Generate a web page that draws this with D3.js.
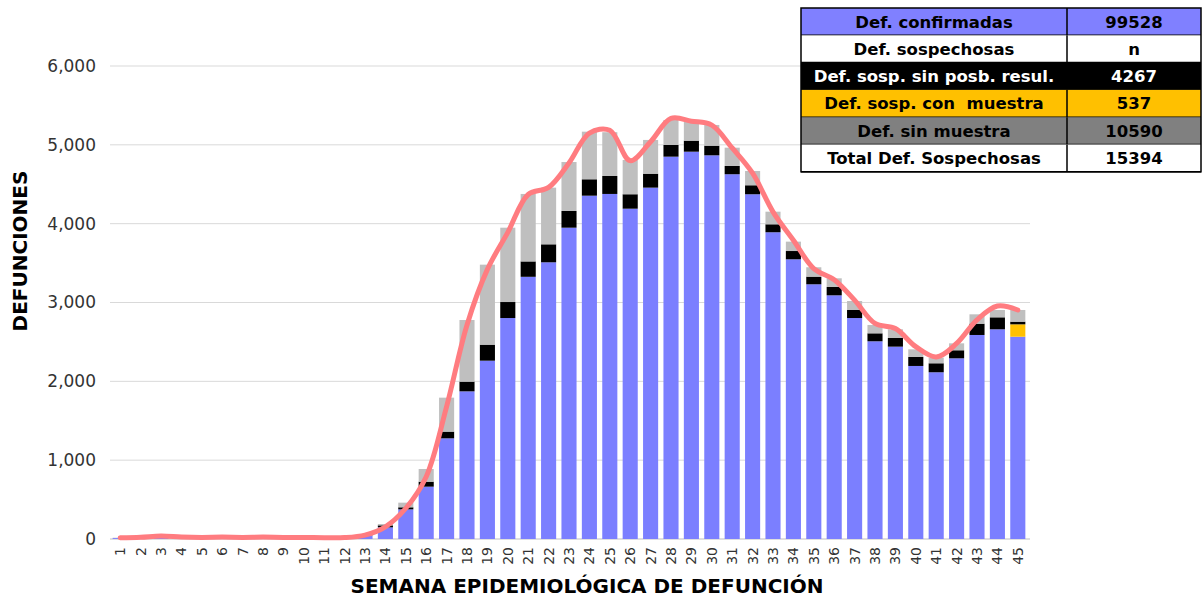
<!DOCTYPE html>
<html>
<head>
<meta charset="utf-8">
<script src="https://cdn.jsdelivr.net/npm/d3@7"></script>
<style>
  body { margin: 0; background: #fff; }
  svg { font-family: "DejaVu Sans", sans-serif; }
</style>
</head>
<body>
<svg id="chart"></svg>
<script>
// semanas epidemiologicas 1..45
const semanas = d3.range(1, 46);

// defunciones confirmadas por semana
const confirmadas = [12, 8, 15, 8, 6, 9, 6, 9, 7, 7, 5, 9, 40, 148, 376, 664, 1277, 1873, 2262, 2803,
  3326, 3510, 3949, 4355, 4377, 4190, 4457, 4850, 4913, 4867, 4627, 4373, 3891, 3548, 3231,
  3091, 2803, 2508, 2440, 2195, 2115, 2292, 2588, 2660, 2566];
// sospechosas con muestra
const conMuestra = [0, 0, 0, 0, 0, 0, 0, 0, 0, 0, 0, 0, 0, 0, 0, 0, 0, 0, 0, 0,
  0, 0, 0, 0, 0, 0, 0, 0, 0, 0, 0, 0, 0, 0, 0,
  0, 0, 0, 0, 0, 0, 0, 0, 0, 157];
// sospechosas sin posibilidad de resultado
const sinPosibResul = [0, 0, 0, 0, 0, 0, 0, 0, 0, 0, 0, 0, 5, 25, 26, 63, 85, 123, 203, 203,
  195, 228, 212, 208, 228, 183, 177, 148, 140, 122, 105, 114, 101, 105, 97,
  106, 102, 101, 110, 114, 114, 102, 143, 152, 34];
// sospechosas sin muestra
const sinMuestra = [4, 2, 10, 5, 4, 6, 4, 6, 5, 5, 4, 5, 10, 17, 59, 161, 431, 782, 1015, 943,
  856, 719, 621, 604, 555, 435, 428, 317, 241, 263, 232, 181, 160, 119, 119,
  110, 114, 106, 110, 97, 71, 88, 119, 93, 148];
// linea de tendencia (total estimado)
const tendencia = [15, 22, 38, 25, 20, 24, 20, 24, 20, 20, 16, 18, 50, 155, 390, 790, 1680, 2715, 3420, 3890,
  4370, 4460, 4770, 5150, 5185, 4800, 5040, 5335, 5300, 5250, 4960, 4640, 4150, 3790, 3430,
  3290, 3030, 2735, 2670, 2440, 2310, 2480, 2780, 2955, 2905];

const yTicks = [0, 1000, 2000, 3000, 4000, 5000, 6000];

const tablaEtiquetas = ["Def. confirmadas", "Def. sospechosas", "Def. sosp. sin posb. resul.",
  "Def. sosp. con  muestra", "Def. sin muestra", "Total Def. Sospechosas"];
const tablaValores = ["99528", "n", "4267", "537", "10590", "15394"];

const series = [
  { key: "confirmadas", values: confirmadas, color: "#7B7FFF" },
  { key: "conMuestra", values: conMuestra, color: "#FFC000" },
  { key: "sinPosibResul", values: sinPosibResul, color: "#000000" },
  { key: "sinMuestra", values: sinMuestra, color: "#BFBFBF" }
];
const tablaFondo = ["#8080FF", "#FFFFFF", "#000000", "#FFC000", "#808080", "#FFFFFF"];
const tablaTexto = ["#000", "#000", "#fff", "#000", "#000", "#000"];

const w = 1204, h = 597;
const svg = d3.select("#chart").attr("width", w).attr("height", h);

const rows = semanas.map((s, i) => {
  const r = { semana: s };
  series.forEach(se => r[se.key] = se.values[i]);
  return r;
});

const x = d3.scaleBand().domain(semanas).range([110, 1028]).paddingInner(0.26).paddingOuter(0.13);
const y = d3.scaleLinear().domain([0, 6000]).range([539, 66]);

// gridlines
svg.append("g")
  .selectAll("line")
  .data(yTicks)
  .join("line")
  .attr("x1", 110).attr("x2", 1030)
  .attr("y1", d => y(d)).attr("y2", d => y(d))
  .attr("stroke", d => d === 0 ? "#bfbfbf" : "#d9d9d9")
  .attr("stroke-width", 1);

const yAxis = svg.append("g")
  .attr("transform", "translate(96,0)")
  .call(d3.axisLeft(y).tickValues(yTicks).tickFormat(d3.format(",")).tickSize(0).tickPadding(0));
yAxis.select(".domain").remove();
yAxis.selectAll("text").attr("font-size", 17).attr("fill", "#333").attr("font-family", "DejaVu Sans");

const stack = d3.stack().keys(series.map(s => s.key));
const stacked = stack(rows);

svg.append("g")
  .selectAll("g")
  .data(stacked)
  .join("g")
  .attr("fill", (d, i) => series[i].color)
  .selectAll("rect")
  .data(d => d)
  .join("rect")
  .attr("x", d => x(d.data.semana))
  .attr("y", d => y(d[1]))
  .attr("width", x.bandwidth())
  .attr("height", d => y(d[0]) - y(d[1]));

// linea suavizada
const line = d3.line()
  .x((d, i) => x(semanas[i]) + x.bandwidth() / 2)
  .y(d => y(d))
  .curve(d3.curveCatmullRom.alpha(0.5));

svg.append("path")
  .datum(tendencia)
  .attr("d", line)
  .attr("fill", "none")
  .attr("stroke", "#FF7C80")
  .attr("stroke-width", 5)
  .attr("stroke-linecap", "round")
  .attr("stroke-linejoin", "round");

const xAxis = svg.append("g")
  .attr("transform", "translate(0,541)")
  .call(d3.axisBottom(x).tickSize(0).tickPadding(0));
xAxis.select(".domain").remove();
xAxis.selectAll("text")
  .attr("font-size", 14)
  .attr("fill", "#333")
  .attr("font-family", "DejaVu Sans")
  .attr("text-anchor", "end")
  .attr("transform", "rotate(-90)")
  .attr("x", -6)
  .attr("y", 0)
  .attr("dy", "0.35em");

svg.append("text")
  .attr("transform", "translate(27,251) rotate(-90)")
  .attr("text-anchor", "middle")
  .attr("font-weight", "bold")
  .attr("font-size", 20)
  .text("DEFUNCIONES");

svg.append("text")
  .attr("x", 587)
  .attr("y", 593)
  .attr("text-anchor", "middle")
  .attr("font-weight", "bold")
  .attr("font-size", 20)
  .text("SEMANA EPIDEMIOLÓGICA DE DEFUNCIÓN");

// tabla resumen
const tx = 801, tMid = 1067, tRight = 1201, tTop = 8, rowH = 27.3;
const tabla = svg.append("g");
const filas = tabla.selectAll("g")
  .data(tablaEtiquetas)
  .join("g")
  .attr("transform", (d, i) => `translate(0,${tTop + i * rowH})`);
filas.append("rect")
  .attr("x", tx).attr("width", tRight - tx).attr("height", rowH)
  .attr("fill", (d, i) => tablaFondo[i]);
filas.append("line")
  .attr("x1", tMid).attr("x2", tMid).attr("y1", 0).attr("y2", rowH)
  .attr("stroke", "#000").attr("stroke-width", 1.5);
filas.append("line")
  .attr("x1", tx).attr("x2", tRight).attr("y1", rowH).attr("y2", rowH)
  .attr("stroke", "#000").attr("stroke-width", 1.5);
filas.append("text")
  .attr("x", (tx + tMid) / 2).attr("y", rowH / 2).attr("dy", "0.36em")
  .attr("text-anchor", "middle").attr("font-weight", "bold").attr("font-size", 16.5)
  .attr("fill", (d, i) => tablaTexto[i])
  .style("white-space", "pre")
  .text(d => d);
filas.append("text")
  .attr("x", (tMid + tRight) / 2).attr("y", rowH / 2).attr("dy", "0.36em")
  .attr("text-anchor", "middle").attr("font-weight", "bold").attr("font-size", 16.5)
  .attr("fill", (d, i) => tablaTexto[i])
  .text((d, i) => tablaValores[i]);
tabla.append("rect")
  .attr("x", tx).attr("y", tTop).attr("width", tRight - tx).attr("height", rowH * tablaEtiquetas.length)
  .attr("fill", "none").attr("stroke", "#000").attr("stroke-width", 1.5);
</script>
</body>
</html>
